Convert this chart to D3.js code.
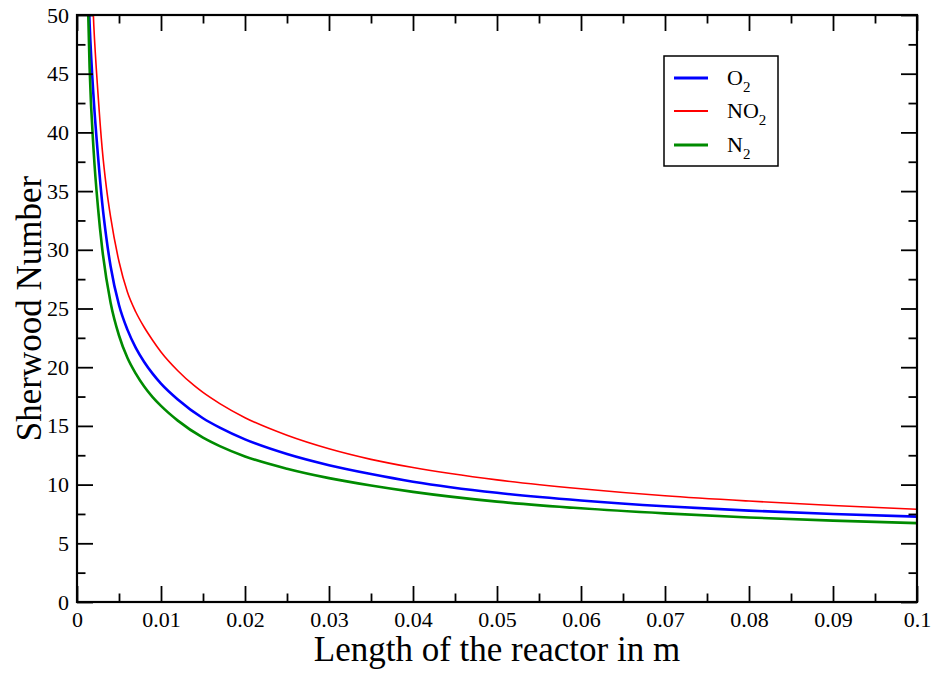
<!DOCTYPE html>
<html><head><meta charset="utf-8">
<script src="https://cdn.jsdelivr.net/npm/d3@7"></script>
<style>body{margin:0;background:#fff}svg{display:block}</style>
</head><body>
<svg id="c" width="936" height="673"></svg>
<script>
// ---- data ----
const lengthO2  = [0.0012,0.0015,0.002,0.0025,0.003,0.0035,0.004,0.005,0.006,0.007,0.008,0.009,0.010,0.012,0.015,0.017,0.020,0.025,0.030,0.035,0.040,0.050,0.060,0.070,0.080,0.090,0.100];
const shO2      = [55.5, 49.3, 42.7, 38.0, 34.0, 31.0, 28.6, 25.3, 23.2, 21.65, 20.45, 19.45, 18.6, 17.25, 15.65, 14.85, 13.85, 12.6, 11.65, 10.9, 10.25, 9.3, 8.65, 8.15, 7.78, 7.5, 7.27];
const lengthNO2 = [0.0015,0.002,0.0025,0.003,0.0035,0.004,0.005,0.006,0.007,0.008,0.009,0.010,0.012,0.014,0.015,0.017,0.020,0.025,0.030,0.035,0.040,0.050,0.060,0.070,0.080,0.090,0.100];
const shNO2     = [58.0, 49.1, 43.3, 38.6, 35.3, 32.8, 29.0, 26.4, 24.7, 23.4, 22.3, 21.3, 19.7, 18.4, 17.85, 16.9, 15.7, 14.2, 13.05, 12.15, 11.45, 10.4, 9.65, 9.05, 8.6, 8.22, 7.9];
const lengthN2  = [0.0012,0.0015,0.002,0.0025,0.003,0.004,0.005,0.006,0.007,0.008,0.009,0.010,0.012,0.015,0.017,0.020,0.025,0.030,0.035,0.040,0.050,0.060,0.070,0.080,0.090,0.100];
const shN2      = [54.0, 45.5, 38.2, 33.6, 30.1, 25.5, 22.7, 20.8, 19.45, 18.35, 17.45, 16.7, 15.45, 14.0, 13.28, 12.4, 11.35, 10.55, 9.92, 9.38, 8.55, 7.98, 7.55, 7.2, 6.93, 6.72];
const xTicks = [0,0.01,0.02,0.03,0.04,0.05,0.06,0.07,0.08,0.09,0.1];
const xTickLabels = ["0","0.01","0.02","0.03","0.04","0.05","0.06","0.07","0.08","0.09","0.1"];
const yTicks = [0,5,10,15,20,25,30,35,40,45,50];
const seriesNames = ["O2","NO2","N2"];
const seriesColors = ["#0000ff","#ff0000","#008b00"];
const seriesWidths = [2.6,1.6,2.6];

const svg = d3.select("#c");
const L=77,R=917,T=15,B=602;
const x = d3.scaleLinear().domain([0,0.1]).range([L,R]);
const y = d3.scaleLinear().domain([0,50]).range([B,T]);
const serif = "Liberation Serif, Times New Roman, serif";

svg.append("clipPath").attr("id","clip").append("rect")
  .attr("x",L).attr("y",T).attr("width",R-L).attr("height",B-T);

const series = [
  {name:"O2", xs:lengthO2, ys:shO2},
  {name:"NO2", xs:lengthNO2, ys:shNO2},
  {name:"N2", xs:lengthN2, ys:shN2}
];
const line = d3.line().x(d=>x(d[0])).y(d=>y(d[1])).curve(d3.curveMonotoneX);
const g = svg.append("g").attr("clip-path","url(#clip)");
[1,0,2].forEach(i=>{
  const s = series[i];
  g.append("path").datum(s.xs.map((v,k)=>[v,s.ys[k]]))
    .attr("d",line).attr("fill","none")
    .attr("stroke",seriesColors[i]).attr("stroke-width",seriesWidths[i]);
});

const xMinor = d3.range(0,21).map(i=>i*0.005).filter(v=>Math.round(v*1000)%10!==0);
const yMinor = d3.range(0,20).map(i=>2.5+i*5).filter(v=>v<50);
function axisGroup(axis, tr){
  const a=svg.append("g").attr("transform",tr).call(axis);
  a.select(".domain").remove();
  a.selectAll("line").attr("stroke","#000").attr("stroke-width",1.8);
  a.attr("font-family",serif).attr("font-size",22);
  return a;
}
const mj=16, mn=8.5;
const xb = axisGroup(d3.axisBottom(x).tickValues(xTicks).tickSize(-mj).tickPadding(9).tickFormat((d,i)=>xTickLabels[i]), `translate(0,${B})`);
xb.selectAll("text").attr("fill","#000");
axisGroup(d3.axisBottom(x).tickValues(xMinor).tickSize(-mn).tickFormat(""), `translate(0,${B})`);
axisGroup(d3.axisTop(x).tickValues(xTicks).tickSize(-mj).tickFormat(""), `translate(0,${T})`);
axisGroup(d3.axisTop(x).tickValues(xMinor).tickSize(-mn).tickFormat(""), `translate(0,${T})`);
const yl = axisGroup(d3.axisLeft(y).tickValues(yTicks).tickSize(-mj).tickPadding(8), `translate(${L},0)`);
yl.selectAll("text").attr("fill","#000");
axisGroup(d3.axisLeft(y).tickValues(yMinor).tickSize(-mn).tickFormat(""), `translate(${L},0)`);
axisGroup(d3.axisRight(y).tickValues(yTicks).tickSize(-mj).tickFormat(""), `translate(${R},0)`);
axisGroup(d3.axisRight(y).tickValues(yMinor).tickSize(-mn).tickFormat(""), `translate(${R},0)`);

svg.append("rect").attr("x",L).attr("y",T).attr("width",R-L).attr("height",B-T)
  .attr("fill","none").attr("stroke","#000").attr("stroke-width",2.2);

svg.append("text").attr("x",(L+R)/2).attr("y",661).attr("text-anchor","middle")
  .attr("font-family",serif).attr("font-size",35).text("Length of the reactor in m");
svg.append("text").attr("transform",`translate(41,${(T+B)/2}) rotate(-90)`).attr("text-anchor","middle")
  .attr("font-family",serif).attr("font-size",35).text("Sherwood Number");

const lg = svg.append("g");
lg.append("rect").attr("x",664).attr("y",56).attr("width",114).attr("height",110)
  .attr("fill","#fff").attr("stroke","#000").attr("stroke-width",1.5);
const labels = [["O","2"],["NO","2"],["N","2"]];
const ly = [78,111,145];
labels.forEach((lb,i)=>{
  lg.append("line").attr("x1",674).attr("x2",708).attr("y1",ly[i]).attr("y2",ly[i])
    .attr("stroke",seriesColors[i]).attr("stroke-width",seriesWidths[i]+0.4);
  const t = lg.append("text").attr("x",727).attr("y",ly[i]+7).attr("font-family",serif).attr("font-size",22);
  t.append("tspan").text(lb[0]);
  t.append("tspan").attr("dy",7).attr("font-size",15).text(lb[1]);
});
</script>
</body></html>
